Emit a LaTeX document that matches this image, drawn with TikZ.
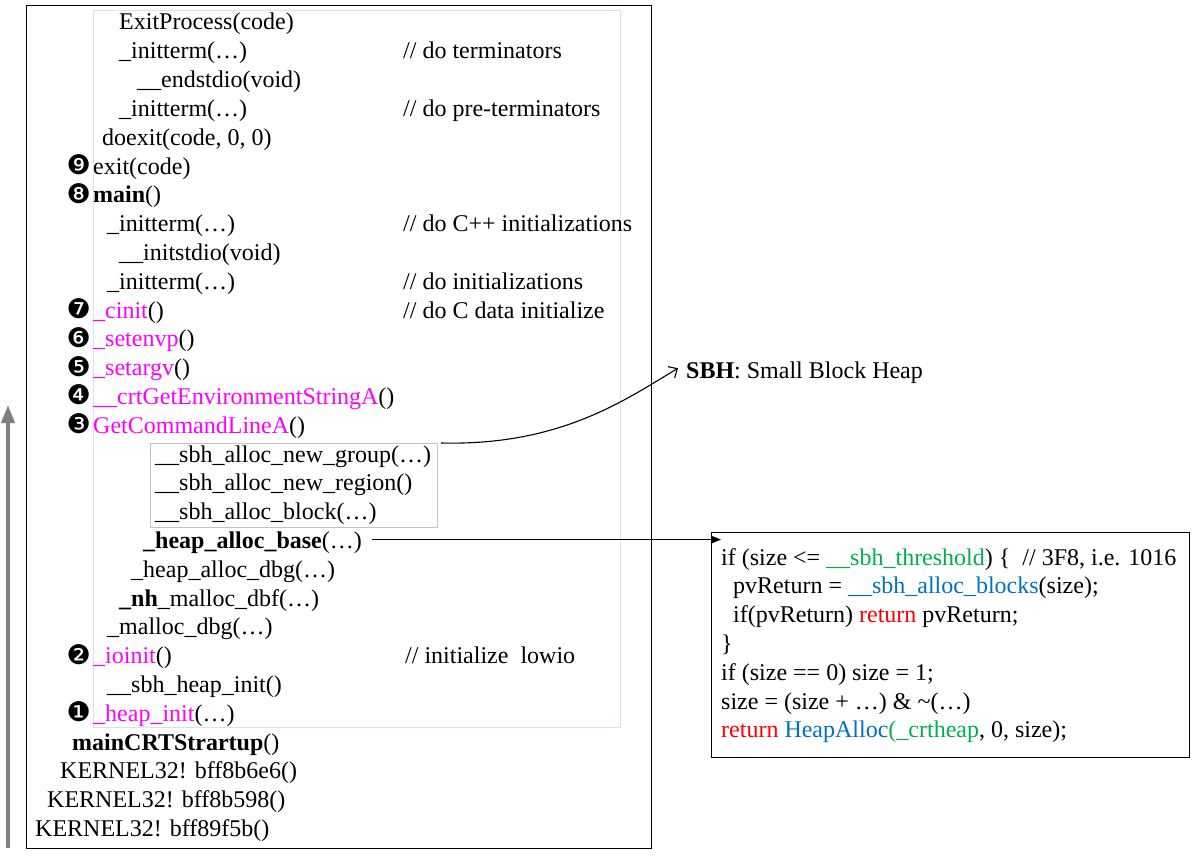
\documentclass[tikz,border=0pt]{standalone}
\usepackage{fontspec}
\setmainfont{Liberation Serif}
\newfontfamily\dingfont{DejaVu Sans}
\usetikzlibrary{arrows.meta,calc}
\definecolor{fnmag}{RGB}{255,0,255}
\definecolor{kwred}{RGB}{255,0,0}
\definecolor{fnblue}{RGB}{0,112,192}
\definecolor{vargreen}{RGB}{0,176,80}
\definecolor{framebl}{RGB}{214,227,240}
\definecolor{framegr}{RGB}{195,195,195}
\definecolor{stackgr}{RGB}{128,128,128}
\newcommand{\mg}[1]{\textcolor{fnmag}{#1}}
\newcommand{\kw}[1]{\textcolor{kwred}{#1}}
\newcommand{\fb}[1]{\textcolor{fnblue}{#1}}
\newcommand{\vg}[1]{\textcolor{vargreen}{#1}}
\begin{document}
\begin{tikzpicture}[x=1pt,y=-1pt,
  txt/.style={anchor=base west, inner sep=0pt, font=\fontsize{24}{28}\selectfont},
  num/.style={anchor=base east, inner sep=0pt, font=\dingfont\fontsize{27}{28}\selectfont},
  conn/.style={draw=black, line width=1.1pt}]
\useasboundingbox (0,0) rectangle (1192,859);

% frames
\node (outer) [draw=black, line width=1.1pt, minimum width=625pt, minimum height=843pt, anchor=north west, inner sep=0pt] at (26,5) {};
\node (inner) [draw=framebl, line width=0.8pt, minimum width=527pt, minimum height=717pt, anchor=north west, inner sep=0pt] at (93,10) {};
\node (sbhbox) [draw=framegr, line width=0.8pt, minimum width=287pt, minimum height=84pt, anchor=north west, inner sep=0pt] at (150,443) {};
\node (codebox) [draw=black, line width=1.1pt, minimum width=478pt, minimum height=225pt, anchor=north west, inner sep=0pt] at (711,532) {};

% call stack, top of stack first
\node (r0) [txt] at (119,30) {ExitProcess(code)};
\node (r1) [txt] at (119,58.8) {\_initterm(…)};
\node (c1) [txt] at (403,58.8) {// do terminators};
\node (r2) [txt] at (137,87.6) {\_\_endstdio(void)};
\node (r3) [txt] at (119,116.4) {\_initterm(…)};
\node (c3) [txt] at (403,116.4) {// do pre-terminators};
\node (r4) [txt] at (102,145.2) {doexit(code, 0, 0)};
\node (n9) [num] at (91,174.5) {❾};
\node (r5) [txt] at (93,174) {exit(code)};
\node (n8) [num] at (91,203.3) {❽};
\node (r6) [txt] at (93,202.8) {\textbf{main}()};
\node (r7) [txt] at (107,231.6) {\_initterm(…)};
\node (c7) [txt] at (403,231.6) {// do C++ initializations};
\node (r8) [txt] at (119,260.4) {\_\_initstdio(void)};
\node (r9) [txt] at (107,289.2) {\_initterm(…)};
\node (c9) [txt] at (403,289.2) {// do initializations};
\node (n7) [num] at (91,318.5) {❼};
\node (r10) [txt] at (93,318) {\mg{\_cinit}()};
\node (c10) [txt] at (403,318) {// do C data initialize};
\node (n6) [num] at (91,347.3) {❻};
\node (r11) [txt] at (93,346.8) {\mg{\_setenvp}()};
\node (n5) [num] at (91,376.1) {❺};
\node (r12) [txt] at (93,375.6) {\mg{\_setargv}()};
\node (n4) [num] at (91,404.9) {❹};
\node (r13) [txt] at (93,404.4) {\mg{\_\_crtGetEnvironmentStringA}()};
\node (n3) [num] at (91,433.7) {❸};
\node (r14) [txt] at (93,433.2) {\mg{GetCommandLineA}()};
\node (r15) [txt] at (155,462) {\_\_sbh\_alloc\_new\_group(…)};
\node (r16) [txt] at (155,490.8) {\_\_sbh\_alloc\_new\_region()};
\node (r17) [txt] at (155,519.6) {\_\_sbh\_alloc\_block(…)};
\node (hab) [txt] at (143,548.4) {\textbf{\_heap\_alloc\_base}(…)};
\node (r19) [txt] at (131,577.2) {\_heap\_alloc\_dbg(…)};
\node (r20) [txt] at (119,606) {\textbf{\_nh}\_malloc\_dbf(…)};
\node (r21) [txt] at (107,634.8) {\_malloc\_dbg(…)};
\node (n2) [num] at (91,664.1) {❷};
\node (r22) [txt] at (93,663.6) {\mg{\_ioinit}()};
\node (c22) [txt] at (405,663.6) {// initialize\ \ lowio};
\node (r23) [txt] at (107,692.4) {\_\_sbh\_heap\_init()};
\node (n1) [num] at (91,721.7) {❶};
\node (r24) [txt] at (93,721.2) {\mg{\_heap\_init}(…)};
\node (r25) [txt] at (72,750) {\textbf{mainCRTStrartup}()};
\node (r26) [txt] at (60,778.8) {KERNEL32! bff8b6e6()};
\node (r27) [txt] at (47,807.6) {KERNEL32! bff8b598()};
\node (r28) [txt] at (35,836.4) {KERNEL32! bff89f5b()};

% small block heap note
\node (sbh) [txt] at (686,378) {\textbf{SBH}: Small\ Block Heap};

% body of _heap_alloc_base
\node (k0) [txt] at (721,565) {if (size <= \vg{\_\_sbh\_threshold}) \{\ \ // 3F8, i.e. 1016};
\node (k1) [txt] at (733,593.8) {pvReturn = \fb{\_\_sbh\_alloc\_blocks}(size);};
\node (k2) [txt] at (733,622.6) {if(pvReturn) \kw{return} pvReturn;};
\node (k3) [txt] at (721,651.4) {\}};
\node (k4) [txt] at (721,680.2) {if (size == 0) size = 1;};
\node (k5) [txt] at (721,709) {size = (size + …) \& \textasciitilde(…)};
\node (k6) [txt] at (721,737.8) {\kw{return} \fb{HeapAlloc}\vg{(\_crtheap}, 0, size);};

% connectors
\draw[conn, -{Triangle[length=9pt,width=7pt]}] ([xshift=10pt,yshift=3pt]hab.east) -- ([xshift=10pt,yshift=3pt]hab.east -| codebox.west);
\draw[conn, -{Straight Barb[length=7pt,width=13pt]}] ([xshift=3pt]sbhbox.north east) .. controls (560,446) and (625,400) .. ([xshift=-8pt,yshift=4pt]sbh.west);

% direction of the stack growth
\coordinate (sbot) at (8,848);
\coordinate (stop) at (8,405);
\draw[draw=stackgr, line width=4pt, -{Triangle[length=18pt,width=13pt]}] (sbot) -- (stop);
\end{tikzpicture}
\end{document}
